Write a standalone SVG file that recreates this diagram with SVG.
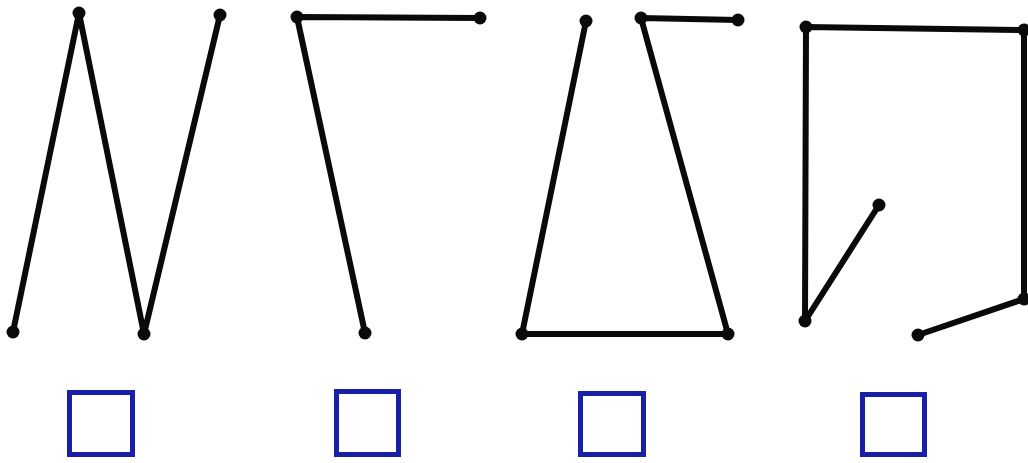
<svg xmlns="http://www.w3.org/2000/svg" width="1028" height="463" viewBox="0 0 1028 463">
<style>
.ln{fill:none;stroke:#0a0a0a;stroke-width:6;stroke-linejoin:round;stroke-linecap:round}
.dot{fill:#0a0a0a}
.box{fill:none;stroke:#1a1fa8;stroke-width:5}
</style>
<rect width="1028" height="463" fill="#ffffff"/>
<g id="fig1">
<polyline class="ln" points="13,332 79,13 144,334 220,15"/>
<circle class="dot" cx="13" cy="332" r="6.5"/><circle class="dot" cx="79" cy="13" r="6.5"/><circle class="dot" cx="144" cy="334" r="6.5"/><circle class="dot" cx="220" cy="15" r="6.5"/>
</g>
<g id="fig2">
<polyline class="ln" points="480,18 297,17 365,333"/>
<circle class="dot" cx="480" cy="18" r="6.5"/><circle class="dot" cx="297" cy="17" r="6.5"/><circle class="dot" cx="365" cy="333" r="6.5"/>
</g>
<g id="fig3">
<polyline class="ln" points="586,21 522,334 728,334 641,18 738,20"/>
<circle class="dot" cx="586" cy="21" r="6.5"/><circle class="dot" cx="522" cy="334" r="6.5"/><circle class="dot" cx="728" cy="334" r="6.5"/><circle class="dot" cx="641" cy="18" r="6.5"/><circle class="dot" cx="738" cy="20" r="6.5"/>
</g>
<g id="fig4">
<polyline class="ln" points="879,205 805,321 806,27 1024,30 1024,299 918,335"/>
<circle class="dot" cx="879" cy="205" r="6.5"/><circle class="dot" cx="805" cy="321" r="6.5"/><circle class="dot" cx="806" cy="27" r="6.5"/><circle class="dot" cx="1024" cy="30" r="6.5"/><circle class="dot" cx="1024" cy="299" r="6.5"/><circle class="dot" cx="918" cy="335" r="6.5"/>
</g>
<g id="boxes">
<rect class="box" x="69.5" y="392.5" width="63" height="62"/>
<rect class="box" x="336.5" y="391.5" width="62" height="63"/>
<rect class="box" x="580.5" y="393.5" width="63" height="61"/>
<rect class="box" x="862.5" y="394.5" width="62" height="60"/>
</g>
</svg>
